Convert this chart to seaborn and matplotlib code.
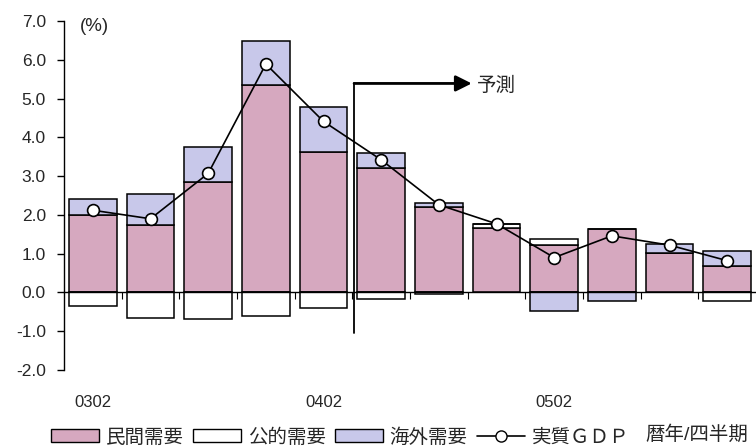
import numpy as np
import matplotlib
matplotlib.use("Agg")
import matplotlib.pyplot as plt
from matplotlib.patches import Patch
from matplotlib.lines import Line2D
import seaborn as sns

# Quarterly contributions to real GDP growth (year-on-year, %)
quarters = ["0302", "0303", "0304", "0401", "0402", "0403",
            "0404", "0501", "0502", "0503", "0504", "0601"]
private_demand = [2.00, 1.73, 2.84, 5.35, 3.63, 3.20, 2.20, 1.67, 1.22, 1.63, 1.03, 0.68]
public_demand = [-0.35, -0.65, -0.69, -0.61, -0.40, -0.17, -0.05, 0.10, 0.15, 0.00, 0.00, -0.22]
overseas_demand = [0.42, 0.82, 0.92, 1.14, 1.16, 0.39, 0.10, 0.00, -0.48, -0.22, 0.22, 0.39]
real_gdp = [2.12, 1.90, 3.07, 5.89, 4.41, 3.42, 2.26, 1.77, 0.90, 1.46, 1.22, 0.82]
shown_labels = {0: "0302", 4: "0402", 8: "0502"}
yticks = [-2.0, -1.0, 0.0, 1.0, 2.0, 3.0, 4.0, 5.0, 6.0, 7.0]

# forecast marker: starts between 0402 and 0403
forecast_x = 4.53
forecast_arrow_end = 6.57
forecast_y = 5.39
forecast_line_bottom = -1.05

sns.set_theme(style="white")
plt.rcParams["font.family"] = ["Liberation Sans", "Noto Sans CJK JP", "DejaVu Sans"]

c_private = "#d6a8bf"
c_public = "#ffffff"
c_overseas = "#c8c8ea"

fig = plt.figure(figsize=(7.56, 4.48), dpi=100)
ax = fig.add_axes([0.0847, 0.1741, 0.9153, 0.779])

x = np.arange(len(quarters))
priv = np.array(private_demand)
pub = np.array(public_demand)
ovs = np.array(overseas_demand)

bw = 0.83
edge = dict(edgecolor="black", linewidth=1.1)

# private demand from zero
sns.barplot(x=quarters, y=private_demand, color=c_private, saturation=1,
            width=bw, ax=ax, zorder=2, **edge)

# public demand: stacks on private when positive, hangs below zero when negative
pub_bottom = np.where(pub >= 0, priv, 0.0)
ax.bar(x, pub, bottom=pub_bottom, width=bw, color=c_public, zorder=2, **edge)

# overseas demand: on top of positives, or below negatives
pos_top = priv + np.clip(pub, 0, None)
neg_bottom = np.clip(pub, None, 0)
ovs_bottom = np.where(ovs >= 0, pos_top, neg_bottom)
ax.bar(x, ovs, bottom=ovs_bottom, width=bw, color=c_overseas, zorder=2, **edge)

# real GDP line
sns.lineplot(x=x, y=real_gdp, ax=ax, color="black", linewidth=1.2, marker="o",
             markersize=8.5, markerfacecolor="white", markeredgecolor="black",
             markeredgewidth=1.2, zorder=4)

ax.set_xlim(-0.5, len(quarters) - 0.5)
ax.set_ylim(-2.0, 7.0)
ax.set_yticks(yticks)
ax.set_yticklabels([f"{v:.1f}" for v in yticks], fontsize=12.5)
ax.set_xlabel("")
ax.set_ylabel("")

for s in ["top", "right"]:
    ax.spines[s].set_visible(False)
ax.spines["left"].set_color("black")
ax.spines["left"].set_linewidth(1.0)
ax.spines["bottom"].set_position(("data", 0))
ax.spines["bottom"].set_color("black")
ax.spines["bottom"].set_linewidth(1.0)
ax.spines["bottom"].set_zorder(3)

ax.set_xticks(np.arange(0.5, len(quarters) - 1, 1.0))
ax.set_xticklabels([])
ax.tick_params(axis="x", which="major", direction="out", length=5, width=0.8,
               color="black", bottom=True)
ax.tick_params(axis="y", direction="out", length=5, width=1.0, color="black",
               left=True, pad=8)

for i, lab in shown_labels.items():
    ax.text(i, -2.83, lab, ha="center", va="center", fontsize=12, clip_on=False)

ax.text(-0.22, 6.87, "(%)", ha="left", va="center", fontsize=13.5)

# forecast period marker
ax.plot([forecast_x, forecast_x], [forecast_line_bottom, forecast_y],
        color="black", linewidth=1.3, zorder=5)
ax.annotate("", xy=(forecast_arrow_end, forecast_y), xytext=(forecast_x, forecast_y),
            arrowprops=dict(arrowstyle="-|>", color="black", lw=2.0,
                            mutation_scale=24, shrinkA=0, shrinkB=0), zorder=5)
ax.text(forecast_arrow_end + 0.09, forecast_y - 0.07, "予測", ha="left",
        va="center", fontsize=14)

handles = [
    Patch(facecolor=c_private, edgecolor="black", linewidth=1.0, label="民間需要"),
    Patch(facecolor=c_public, edgecolor="black", linewidth=1.0, label="公的需要"),
    Patch(facecolor=c_overseas, edgecolor="black", linewidth=1.0, label="海外需要"),
    Line2D([], [], color="black", linewidth=1.2, marker="o", markersize=8,
           markerfacecolor="white", markeredgecolor="black", label="実質ＧＤＰ"),
]
fig.legend(handles=handles, loc="center", bbox_to_anchor=(0.450, 0.0235), ncol=4,
           frameon=False, fontsize=14, handlelength=2.45, handleheight=0.65,
           handletextpad=0.35, columnspacing=0.5, borderpad=0, borderaxespad=0)
fig.text(645 / 756, 0.030, "暦年/四半期", ha="left", va="center", fontsize=14)

fig.savefig("out.png", dpi=100)
